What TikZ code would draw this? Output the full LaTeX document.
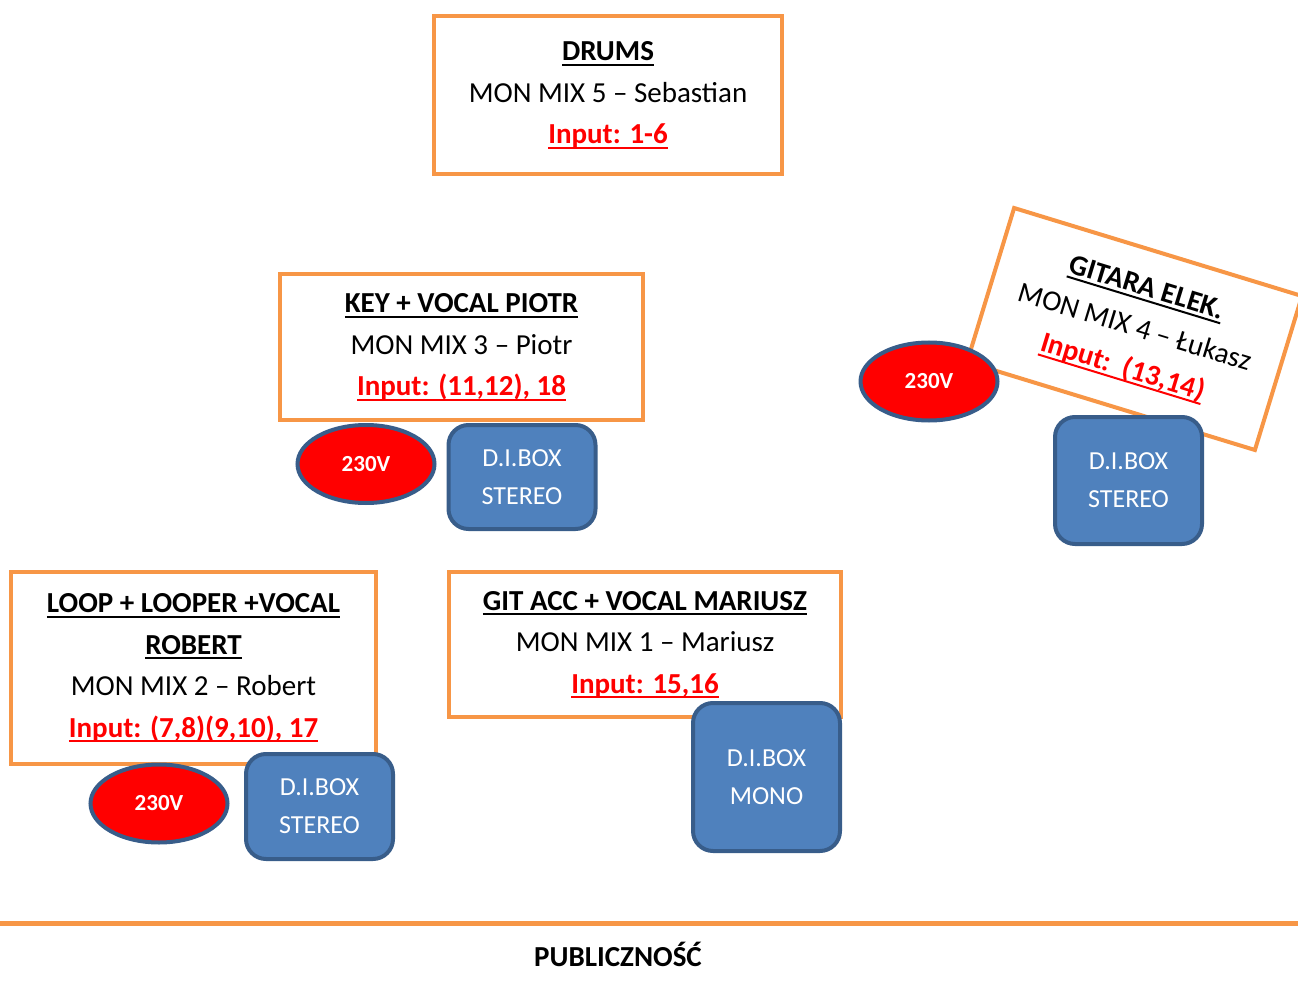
\documentclass[tikz,border=0pt]{standalone}
\usepackage{fontspec}
\setmainfont{Carlito}
\usepackage{tikz}
\usetikzlibrary{shapes.geometric}
\definecolor{stageorange}{HTML}{F79646}
\definecolor{boxblue}{HTML}{4F81BD}
\definecolor{boxedge}{HTML}{385D8A}
\newsavebox\ulbox
\newcommand\ulin[1]{\sbox\ulbox{#1}\rlap{\vrule height -3pt depth 5pt width \wd\ulbox}\usebox\ulbox}
\newcommand\bandhead[1]{{\bfseries\ulin{#1}}}
\newcommand\bandinput[1]{{\bfseries\color{red}\ulin{#1}}}

\begin{document}
\begin{tikzpicture}[x=1pt,y=-1pt,
    band/.style={draw=stageorange, fill=white, line width=4, align=center, inner sep=0,
        font=\fontsize{29}{41.5}\selectfont},
    power/.style={ellipse, draw=boxedge, fill=red, line width=4, minimum width=137,
        minimum height=78, inner sep=0, text=white, font=\fontsize{23}{28}\selectfont\bfseries},
    dibox/.style={rounded corners=20, draw=boxedge, fill=boxblue, line width=4, minimum width=147,
        align=center, inner sep=0, text=white, font=\fontsize{26}{38}\selectfont}]
    \useasboundingbox (0,0) rectangle (1298,981);

    \node[band, minimum width=348, minimum height=158] (drums) at (608,95)
        {\bandhead{DRUMS}\\MON MIX 5 – Sebastian\\\bandinput{Input: 1-6}};
    \node[band, minimum width=363, minimum height=146] (keys) at (461.5,347)
        {\bandhead{KEY + VOCAL PIOTR}\\MON MIX 3 – Piotr\\\bandinput{Input: (11,12), 18}};
    \node[band, minimum width=301, minimum height=161, rotate=-17] (gitara) at (1134.5,329)
        {\bandhead{GITARA ELEK.}\\MON MIX 4 – Łukasz\\\bandinput{Input:\ \ (13,14)}};
    \node[band, minimum width=365, minimum height=192] (loop) at (193.5,668)
        {\bandhead{LOOP + LOOPER +VOCAL}\\\bandhead{ROBERT}\\MON MIX 2 – Robert\\\bandinput{Input: (7,8)(9,10), 17}};
    \node[band, minimum width=392, minimum height=145] (gitacc) at (645,644.5)
        {\bandhead{GIT ACC + VOCAL MARIUSZ}\\MON MIX 1 – Mariusz\\\bandinput{Input: 15,16}};

    \foreach \x/\y/\n in {366/464/pwrA, 159/803.5/pwrB, 929/381.5/pwrC}
        \node[power] (\n) at (\x,\y) {230V};

    \foreach \x/\y/\h/\kind/\n in {522/477/104/STEREO/diA, 319.5/806.5/105/STEREO/diB,
            766.5/777/148/MONO/diC, 1128.5/480.5/127/STEREO/diD}
        \node[dibox, minimum height=\h] (\n) at (\x,\y) {D.I.BOX\\\kind};

    \coordinate (stageL) at (0,923.5);
    \coordinate (stageR) at (1298,923.5);
    \draw[stageorange, line width=5] (stageL) -- (stageR);
    \node[font=\fontsize{29}{35}\selectfont\bfseries] (public) at (618,954.5) {PUBLICZNOŚĆ};
\end{tikzpicture}
\end{document}
